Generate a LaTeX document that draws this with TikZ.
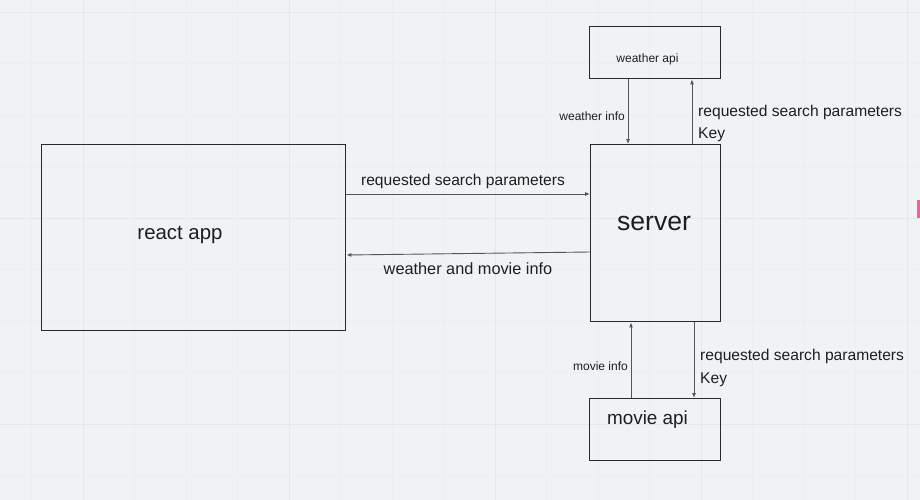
\documentclass[tikz,border=0pt]{standalone}
\usepackage{fontspec}
\setmainfont{Liberation Sans}
\usetikzlibrary{arrows.meta}
\definecolor{bgc}{HTML}{F0F3F6}
\definecolor{gridminor}{HTML}{ECEFF2}
\definecolor{gridmajor}{HTML}{E4E8EB}
\definecolor{boxline}{HTML}{2A2A2A}
\definecolor{arrowline}{HTML}{555555}
\definecolor{txt}{HTML}{1E1E1E}
\definecolor{pinkmark}{HTML}{F0609E}
\tikzset{
  box/.style={draw=boxline, line width=1.4pt, rectangle, inner sep=0pt, anchor=north west},
  conn/.style={draw=arrowline, line width=0.9pt, -{Latex[length=5pt,width=4pt]}},
  lbl/.style={text=txt, inner sep=0pt, font=\fontsize{15.6}{18}\selectfont},
  lblb/.style={text=txt, inner sep=0pt, font=\fontsize{16.3}{19}\selectfont},
  small/.style={text=txt, inner sep=0pt, font=\fontsize{12}{14}\selectfont},
}
\begin{document}
\begin{tikzpicture}[x=1pt,y=-1pt]
\useasboundingbox (0,0) rectangle (920,500);
\fill[bgc] (0,0) rectangle (920,500);
% grid
\foreach \i in {-2,...,17} {
  \draw[gridminor, line width=0.6pt] ({83+\i*51.5},0) -- ({83+\i*51.5},500);
  \draw[gridminor, line width=0.6pt] (0,{12+\i*51.5}) -- (920,{12+\i*51.5});
}
\foreach \i in {-1,...,4} {
  \draw[gridmajor, line width=0.8pt] ({83+\i*206},0) -- ({83+\i*206},500);
  \draw[gridmajor, line width=0.8pt] (0,{12+\i*206}) -- (920,{12+\i*206});
}
\fill[pinkmark] (917,200) rectangle (920,218);

% boxes
\node[box, minimum width=304pt, minimum height=186pt] (react) at (41,144) {};
\node[box, minimum width=130pt, minimum height=177pt] (server) at (590,144) {};
\node[box, minimum width=131pt, minimum height=52pt] (weather) at (589,26) {};
\node[box, minimum width=131pt, minimum height=62pt] (movie) at (589,398) {};

% box texts
\node[text=txt, inner sep=0pt, anchor=base, font=\fontsize{20.4}{24}\selectfont] (reacttxt) at (180,239) {react app};
\node[text=txt, inner sep=0pt, anchor=base, font=\fontsize{26.6}{30}\selectfont] (servertxt) at (654,230) {server};
\node[small, anchor=base] (weathertxt) at (647.5,63) {weather api};
\node[text=txt, inner sep=0pt, anchor=base, font=\fontsize{18.9}{22}\selectfont] (movietxt) at (647.5,424) {movie api};

% connectors
\draw[conn] (react.east |- 0,194) -- (server.west |- 0,194);
\draw[conn] (server.west |- 0,252) -- (react.east |- 0,255);
\draw[conn] (weather.south -| 628,0) -- (server.north -| 628,0);
\draw[conn] (server.north -| 692,0) -- (weather.south -| 692,0);
\draw[conn] (movie.north -| 631,0) -- (server.south -| 631,0);
\draw[conn] (server.south -| 694,0) -- (movie.north -| 694,0);

% connector labels
\node[lbl, anchor=base] (l1) at (463,185) {requested search parameters};
\node[lblb, anchor=base] (l2) at (468,274) {weather and movie info};
\node[small, anchor=base east] (l3) at (625,121) {weather info};
\node[lbl, anchor=base west] (l4a) at (698,117) {requested search parameters};
\node[lbl, anchor=base west] (l4b) at (698,138) {Key};
\node[small, anchor=base east] (l5) at (628,370) {movie info};
\node[lbl, anchor=base west] (l6a) at (700,360) {requested search parameters};
\node[lbl, anchor=base west] (l6b) at (700,383) {Key};
\end{tikzpicture}
\end{document}
